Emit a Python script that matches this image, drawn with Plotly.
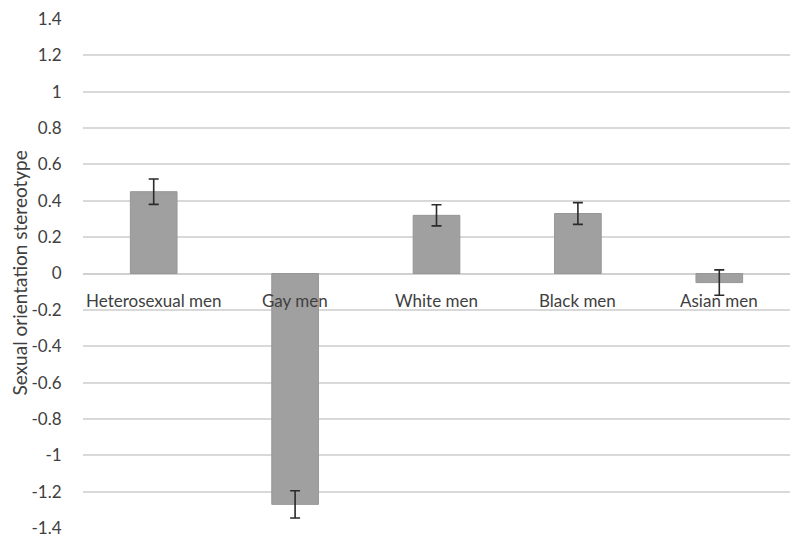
import plotly.graph_objects as go

categories = ["Heterosexual men", "Gay men", "White men", "Black men", "Asian men"]
means = [0.45, -1.27, 0.32, 0.33, -0.05]
errors = [0.07, 0.075, 0.058, 0.06, 0.07]
y_ticks = [1.4, 1.2, 1, 0.8, 0.6, 0.4, 0.2, 0, -0.2, -0.4, -0.6, -0.8, -1, -1.2, -1.4]
y_tick_text = ["1.4", "1.2", "1", "0.8", "0.6", "0.4", "0.2", "0", "-0.2", "-0.4",
               "-0.6", "-0.8", "-1", "-1.2", "-1.4"]
y_title = "Sexual orientation stereotype"

text_color = "#404040"
font_family = "Lato, 'Open Sans', sans-serif"

LEFT, RIGHT, TOP, BOTTOM = 83, 12, 19, 13
W, H = 802, 541

fig = go.Figure()
fig.add_trace(go.Bar(
    x=categories,
    y=means,
    width=0.33,
    marker=dict(color="#a0a0a0", line=dict(color="#969696", width=1)),
    error_y=dict(type="data", array=errors, visible=True,
                 color="#2a2a2a", thickness=1.6, width=5),
))

# Category labels sit just under the zero line
for c in categories:
    fig.add_annotation(x=c, y=0, yref="y", xref="x", text=c, showarrow=False,
                       yshift=-27, font=dict(size=17, color=text_color, family=font_family))

# Vertical axis title
fig.add_annotation(xref="paper", yref="paper", x=-(LEFT - 19) / (W - LEFT - RIGHT), y=0.5,
                   xanchor="center", yanchor="middle",
                   text=y_title, textangle=-90, showarrow=False,
                   font=dict(size=19, color=text_color, family=font_family))

fig.update_layout(
    width=W, height=H,
    margin=dict(l=LEFT, r=RIGHT, t=TOP, b=BOTTOM),
    plot_bgcolor="white", paper_bgcolor="white",
    showlegend=False,
    font=dict(family=font_family, size=17, color=text_color),
    xaxis=dict(showticklabels=False, showgrid=False, zeroline=False, showline=False,
               range=[-0.5, 4.5], automargin=False),
    yaxis=dict(range=[-1.4, 1.4], tickvals=y_ticks, ticktext=y_tick_text,
               showgrid=True, gridcolor="#d9d9d9", gridwidth=1.5,
               zeroline=True, zerolinecolor="#d0d0d0", zerolinewidth=1.5,
               showline=False, ticks="outside", ticklen=17, tickcolor="rgba(0,0,0,0)",
               tickfont=dict(size=17, color=text_color), automargin=False),
)

fig.write_html("out.html")
